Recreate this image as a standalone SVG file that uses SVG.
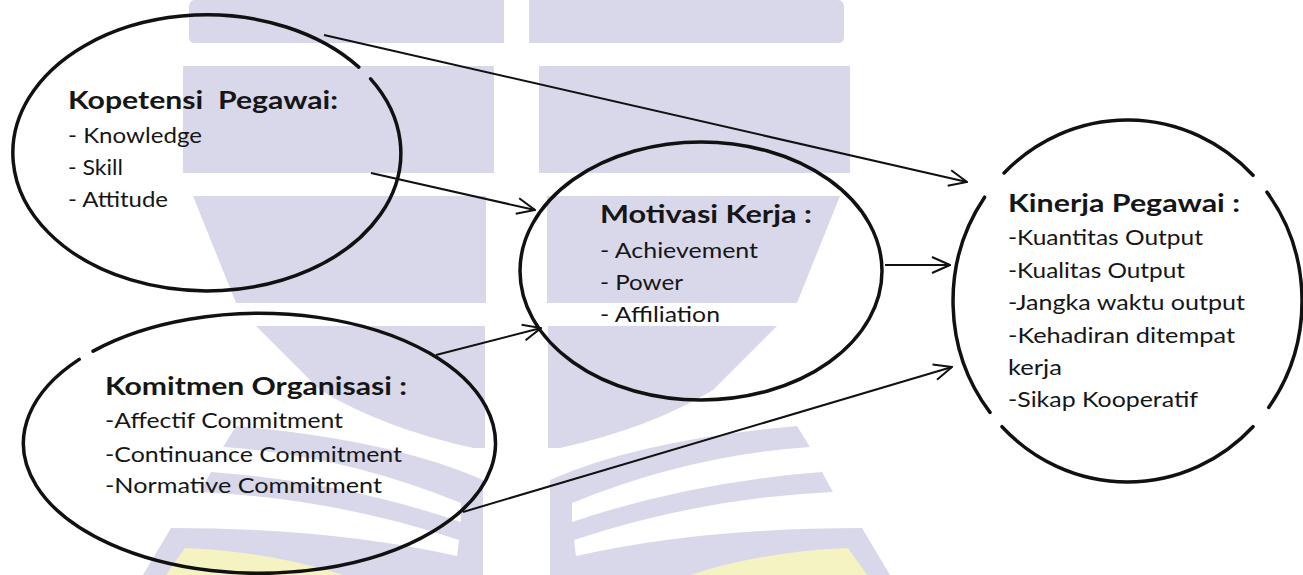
<svg xmlns="http://www.w3.org/2000/svg" xmlns:xlink="http://www.w3.org/1999/xlink" width="1303" height="575" viewBox="0 0 1303 575">
<defs>
<style>
.wm{fill:#d9d8ea}
.wy{fill:#f5f3c2}
.node{fill:none;stroke:#111;stroke-width:3.5;stroke-linecap:round}
.conn{fill:none;stroke:#111;stroke-width:2;marker-end:url(#arr)}
.t{font-family:Lato,"Open Sans",sans-serif;fill:#161616}
.h{font-size:25px;font-weight:bold}
.i{font-size:21.5px}
</style>
<marker id="arr" viewBox="0 0 20 18" refX="19" refY="9" markerWidth="20" markerHeight="18" markerUnits="userSpaceOnUse" orient="auto">
<path d="M1,1 L19,9 L1,17" fill="none" stroke="#111" stroke-width="2"/>
</marker>
<g id="wmh">
<path class="wm" d="M529,0 H838 Q844,0 844,8 V37 Q844,43 838,43 H529 Z"/>
<rect class="wm" x="539" y="66" width="311" height="107"/>
<path class="wm" d="M547,196 H840 L797,303 H547 Z"/>
<path class="wm" d="M548,326 H777 L713,390 Q650,428 560,448 H548 Z"/>
<path class="wm" d="M550,480 Q640,440 797,426 L810,447 Q690,455 572,503 V522 Q690,482 822,472 L833,492 Q700,498 574,540 L576,556 Q700,528 862,528 L890,575 H550 Z"/>
<path class="wy" d="M690,575 Q760,552 848,548 L867,575 Z"/>
</g>
</defs>
<rect width="1303" height="575" fill="#ffffff"/>
<g id="watermark">
<use href="#wmh" xlink:href="#wmh"/>
<use href="#wmh" xlink:href="#wmh" transform="translate(1033,0) scale(-1,1)"/>
</g>
<g id="connectors">
<path class="conn" d="M324,35 L967,182"/>
<path class="conn" d="M371,173 L535,210"/>
<path class="conn" d="M436,355 L541,328"/>
<path class="conn" d="M885,265 L950,265"/>
<path class="conn" d="M463,512 L952,367"/>
</g>
<g id="node-kopetensi">
<path class="node" d="M370.6,78.9 A194,138 0 1 1 358.8,67.1"/>
<text class="t h" x="68" y="109" textLength="270" lengthAdjust="spacingAndGlyphs" xml:space="preserve">Kopetensi  Pegawai:</text>
<text class="t i" x="68" y="143" textLength="134" lengthAdjust="spacingAndGlyphs">- Knowledge</text>
<text class="t i" x="68" y="175" textLength="55" lengthAdjust="spacingAndGlyphs">- Skill</text>
<text class="t i" x="68" y="207" textLength="100" lengthAdjust="spacingAndGlyphs">- Attitude</text>
</g>
<g id="node-motivasi">
<ellipse class="node" cx="701" cy="271" rx="181" ry="129"/>
<text class="t h" x="600" y="223" textLength="212" lengthAdjust="spacingAndGlyphs">Motivasi Kerja :</text>
<text class="t i" x="600" y="258" textLength="158" lengthAdjust="spacingAndGlyphs">- Achievement</text>
<text class="t i" x="600" y="290" textLength="83" lengthAdjust="spacingAndGlyphs">- Power</text>
<text class="t i" x="600" y="322" textLength="120" lengthAdjust="spacingAndGlyphs">- Affiliation</text>
</g>
<g id="node-komitmen">
<path class="node" d="M93.1,351.1 A236,130 0 1 1 79.2,359.4"/>
<text class="t h" x="105" y="395" textLength="302" lengthAdjust="spacingAndGlyphs">Komitmen Organisasi :</text>
<text class="t i" x="105" y="428" textLength="238" lengthAdjust="spacingAndGlyphs">-Affectif Commitment</text>
<text class="t i" x="105" y="462" textLength="297" lengthAdjust="spacingAndGlyphs">-Continuance Commitment</text>
<text class="t i" x="105" y="493" textLength="277" lengthAdjust="spacingAndGlyphs">-Normative Commitment</text>
</g>
<g id="node-kinerja">
<path class="node" d="M1004.1,173 A174.5,181 0 0 1 1253,175.3"/>
<path class="node" d="M1266.9,192.1 A174.5,181 0 0 1 1268.7,407.4"/>
<path class="node" d="M1253,426.7 A174.5,181 0 0 1 1002,426.7"/>
<path class="node" d="M990,412.4 A174.5,181 0 0 1 984.6,197.2"/>
<text class="t h" x="1008" y="212" textLength="232" lengthAdjust="spacingAndGlyphs">Kinerja Pegawai :</text>
<text class="t i" x="1008" y="245" textLength="195" lengthAdjust="spacingAndGlyphs">-Kuantitas Output</text>
<text class="t i" x="1008" y="278" textLength="177" lengthAdjust="spacingAndGlyphs">-Kualitas Output</text>
<text class="t i" x="1008" y="310" textLength="237" lengthAdjust="spacingAndGlyphs">-Jangka waktu output</text>
<text class="t i" x="1008" y="343" textLength="227" lengthAdjust="spacingAndGlyphs">-Kehadiran ditempat</text>
<text class="t i" x="1008" y="375" textLength="54" lengthAdjust="spacingAndGlyphs">kerja</text>
<text class="t i" x="1008" y="407" textLength="190" lengthAdjust="spacingAndGlyphs">-Sikap Kooperatif</text>
</g>
</svg>
